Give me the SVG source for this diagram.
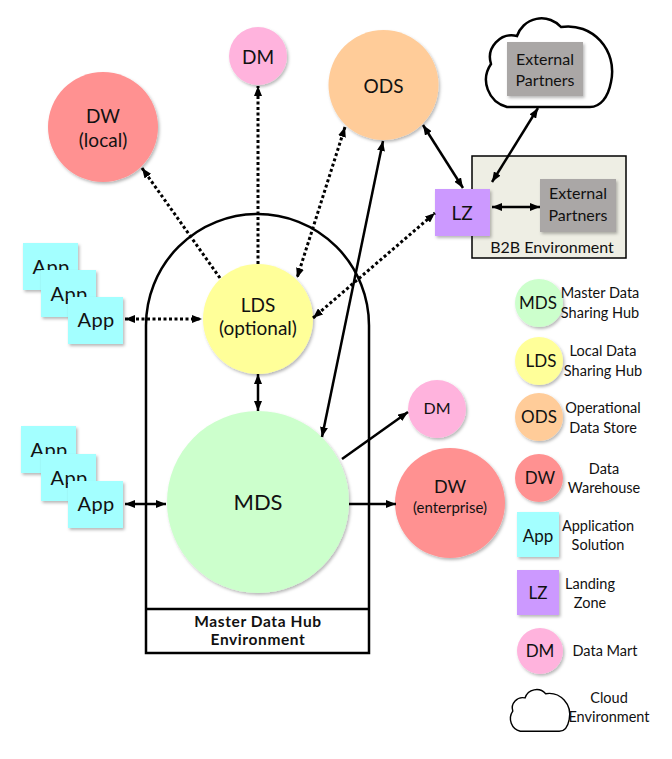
<svg xmlns="http://www.w3.org/2000/svg" xmlns:xlink="http://www.w3.org/1999/xlink" width="672" height="759" viewBox="0 0 672 759">
<defs>
<style>
text{font-family:Lato,"Open Sans","DejaVu Sans",sans-serif;fill:#111;text-anchor:middle}
.big{font-size:19px}
.app-t{font-size:20px;letter-spacing:0.3px}
.med{font-size:16px}
.lg{font-size:14.5px}
.lgl{font-size:17px}
.bold{font-size:15.5px;font-weight:bold;letter-spacing:0.6px}
.sol{stroke:#000;stroke-width:2.5;fill:none}
.dot{stroke:#000;stroke-width:3;fill:none;stroke-dasharray:3 2.5}
.env{stroke:#000;stroke-width:2.5;fill:none}
.dw{fill:#ff9191}
.dm{fill:#ffb3dd}
.ods{fill:#ffcc99}
.lds{fill:#ffff99}
.mds{fill:#ccffcc}
.app{fill:#a3ffff}
.lz{fill:#cc99ff}
.ext{fill:#aaa7a6}
</style>
<filter id="sh" x="-20%" y="-20%" width="150%" height="150%">
<feDropShadow dx="1.5" dy="2" stdDeviation="1.5" flood-color="#000" flood-opacity="0.28"/>
</filter>
<marker id="ah" viewBox="0 0 10 8" refX="10" refY="4" markerWidth="10" markerHeight="8" markerUnits="userSpaceOnUse" orient="auto-start-reverse">
<path d="M0,0 L10,4 L0,8 z" fill="#000"/>
</marker>
<path id="cloud" d="M507,107 A28 28 0 0 1 491,64 A22 22 0 0 1 517,36 A26 26 0 0 1 561,27 C592,22 618,50 611,82 C608,98 600,107 590,107 Z"/>
</defs>

<g id="env-mdh">
<path class="env" d="M146,653 V325.5 A111.5 111.5 0 0 1 369,325.5 V653 Z"/>
<line class="env" x1="146" y1="609" x2="369" y2="609"/>
<text class="bold" x="258" y="627">Master Data Hub</text>
<text class="bold" x="258" y="645">Environment</text>
</g>

<g id="env-b2b">
<rect x="472" y="156" width="154" height="102" fill="#eeeee4" stroke="#000" stroke-width="1.5"/>
<text class="med" x="552" y="253">B2B Environment</text>
</g>

<g id="env-cloud">
<use xlink:href="#cloud" fill="#fff" stroke="#000" stroke-width="2.5"/>
</g>

<g id="ext-cloud">
<rect class="ext" x="507" y="42" width="76" height="54" filter="url(#sh)"/>
<text class="med" x="545" y="65">External</text>
<text class="med" x="545" y="86">Partners</text>
</g>

<g id="ext-b2b">
<rect class="ext" x="540" y="179" width="76" height="53" filter="url(#sh)"/>
<text class="med" x="578" y="199">External</text>
<text class="med" x="578" y="221">Partners</text>
</g>

<g id="dw-local">
<circle class="dw" cx="103" cy="127" r="55" filter="url(#sh)"/>
<text class="big" x="103" y="123">DW</text>
<text class="big" x="103" y="147">(local)</text>
</g>

<g id="dm-top">
<circle class="dm" cx="258" cy="56" r="29" filter="url(#sh)"/>
<text class="big" x="258" y="64">DM</text>
</g>

<g id="ods">
<circle class="ods" cx="383.5" cy="85" r="55" filter="url(#sh)"/>
<text class="big" x="383.5" y="93">ODS</text>
</g>

<g id="lz">
<rect class="lz" x="435" y="189" width="55" height="47" filter="url(#sh)"/>
<text class="big" x="462" y="220">LZ</text>
</g>

<g id="lds">
<circle class="lds" cx="258" cy="319" r="55" filter="url(#sh)"/>
<text class="big" x="258" y="312">LDS</text>
<text class="big" x="258" y="335">(optional)</text>
</g>

<g id="mds">
<circle class="mds" cx="258" cy="502" r="91" filter="url(#sh)"/>
<text x="258" y="510" style="font-size:22px">MDS</text>
</g>

<g id="apps-top">
<rect class="app" x="23" y="243" width="55" height="47" filter="url(#sh)"/>
<text class="app-t" x="51" y="274">App</text>
<rect class="app" x="41" y="270" width="55" height="47" filter="url(#sh)"/>
<text class="app-t" x="69" y="301">App</text>
<rect class="app" x="68" y="297" width="55" height="47" filter="url(#sh)"/>
<text class="app-t" x="96" y="327">App</text>
</g>

<g id="apps-bottom">
<rect class="app" x="21" y="426" width="55" height="47" filter="url(#sh)"/>
<text class="app-t" x="49" y="457">App</text>
<rect class="app" x="41" y="454" width="55" height="47" filter="url(#sh)"/>
<text class="app-t" x="69" y="485">App</text>
<rect class="app" x="68" y="481" width="55" height="47" filter="url(#sh)"/>
<text class="app-t" x="96" y="511">App</text>
</g>

<g id="dm-right">
<circle class="dm" cx="437" cy="409" r="29" filter="url(#sh)"/>
<text class="med" x="437" y="414">DM</text>
</g>

<g id="dw-enterprise">
<circle class="dw" cx="450" cy="503" r="55" filter="url(#sh)"/>
<text x="450" y="493" style="font-size:18px">DW</text>
<text class="lg" x="450" y="513" style="font-size:15px">(enterprise)</text>
</g>

<g id="connectors">
<line class="dot" x1="220" y1="278" x2="142" y2="168" marker-end="url(#ah)"/>
<line class="dot" x1="258" y1="264" x2="258" y2="86" marker-end="url(#ah)"/>
<line class="dot" x1="345" y1="127" x2="297" y2="278" marker-start="url(#ah)" marker-end="url(#ah)"/>
<line class="dot" x1="313" y1="318" x2="435" y2="213" marker-start="url(#ah)" marker-end="url(#ah)"/>
<line class="dot" x1="125" y1="319" x2="202" y2="319" marker-start="url(#ah)" marker-end="url(#ah)"/>
<line class="sol" x1="258" y1="374" x2="258" y2="411" marker-start="url(#ah)" marker-end="url(#ah)"/>
<line class="sol" x1="383" y1="141" x2="322" y2="437" marker-start="url(#ah)" marker-end="url(#ah)"/>
<line class="sol" x1="423" y1="125" x2="463" y2="188" marker-start="url(#ah)" marker-end="url(#ah)"/>
<line class="sol" x1="538" y1="108" x2="492" y2="182" marker-start="url(#ah)" marker-end="url(#ah)"/>
<line class="sol" x1="492" y1="207" x2="540" y2="207" marker-start="url(#ah)" marker-end="url(#ah)"/>
<line class="sol" x1="342" y1="459" x2="408" y2="412" marker-end="url(#ah)"/>
<line class="sol" x1="349" y1="504" x2="396" y2="504" marker-end="url(#ah)"/>
<line class="sol" x1="125" y1="504" x2="166" y2="504" marker-start="url(#ah)" marker-end="url(#ah)"/>
</g>

<g id="legend-mds">
<circle class="mds" cx="539" cy="303" r="24" filter="url(#sh)"/>
<text class="lgl" x="538" y="309">MDS</text>
<text class="lg" x="600" y="298">Master Data</text>
<text class="lg" x="600" y="318">Sharing Hub</text>
</g>
<g id="legend-lds">
<circle class="lds" cx="539" cy="361" r="24" filter="url(#sh)"/>
<text class="lgl" x="541" y="367">LDS</text>
<text class="lg" x="603" y="356">Local Data</text>
<text class="lg" x="603" y="376">Sharing Hub</text>
</g>
<g id="legend-ods">
<circle class="ods" cx="539" cy="417" r="24" filter="url(#sh)"/>
<text class="lgl" x="539" y="423">ODS</text>
<text class="lg" x="603" y="413">Operational</text>
<text class="lg" x="603" y="433">Data Store</text>
</g>
<g id="legend-dw">
<circle class="dw" cx="539" cy="478" r="24" filter="url(#sh)"/>
<text class="lgl" x="540" y="484">DW</text>
<text class="lg" x="604" y="474">Data</text>
<text class="lg" x="604" y="493">Warehouse</text>
</g>
<g id="legend-app">
<rect class="app" x="517" y="512" width="42" height="45" filter="url(#sh)"/>
<text class="lgl" x="538" y="542">App</text>
<text class="lg" x="598" y="531">Application</text>
<text class="lg" x="598" y="550">Solution</text>
</g>
<g id="legend-lz">
<rect class="lz" x="517" y="570" width="42" height="45" filter="url(#sh)"/>
<text class="lgl" x="538" y="599">LZ</text>
<text class="lg" x="590" y="589">Landing</text>
<text class="lg" x="590" y="608">Zone</text>
</g>
<g id="legend-dm">
<circle class="dm" cx="540" cy="651" r="23" filter="url(#sh)"/>
<text class="lgl" x="540" y="657">DM</text>
<text class="lg" x="605" y="656">Data Mart</text>
</g>
<g id="legend-cloud">
<use xlink:href="#cloud" transform="translate(282,681) scale(0.47)" fill="#fff" stroke="#000" stroke-width="3"/>
<text class="lg" x="609" y="703">Cloud</text>
<text class="lg" x="609" y="722">Environment</text>
</g>
</svg>
